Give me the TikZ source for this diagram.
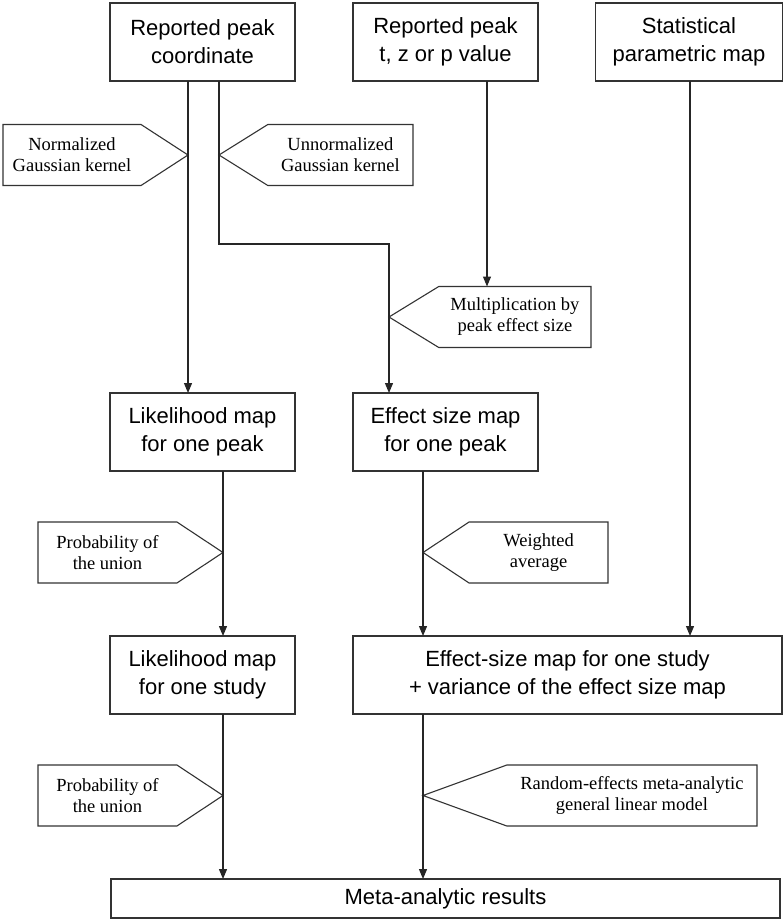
\documentclass[tikz,border=0pt]{standalone}
\usepackage{fontspec}
\setmainfont{Liberation Serif}
\setsansfont{Liberation Sans}
\usetikzlibrary{arrows.meta,shapes.symbols}

\begin{document}
\begin{tikzpicture}[x=1pt,y=-1pt,
  box/.style={draw=black!80,line width=1.3pt,minimum width=185pt,minimum height=78pt,align=center,inner sep=0pt,outer sep=0pt,font=\sffamily\fontsize{22}{28}\selectfont},
  lab/.style={signal,draw=black!80,line width=1.1pt,minimum height=61pt,align=center,inner sep=0pt,outer sep=0pt,font=\fontsize{18.5}{21}\selectfont},
  arr/.style={draw=black!85,line width=1.2pt,-{Triangle[length=10pt,width=8pt]}}]
\useasboundingbox (0,0) rectangle (784,924);
\node[box] (b1) at (202.5,42) {Reported peak\\coordinate};
\node[box] (b2) at (445.5,42) {Reported peak\\t, z or p value};
\node[box,minimum width=187pt] (b3) at (689,42) {Statistical\\parametric map};
\node[box] (b4) at (202.5,432) {Likelihood map\\for one peak};
\node[box] (b5) at (445.5,432) {Effect size map\\for one peak};
\node[box] (b6) at (202.5,675) {Likelihood map\\for one study};
\node[box,minimum width=429pt] (b7) at (567.5,675) {Effect-size map for one study\\+ variance of the effect size map};
\node[box,minimum width=669pt,minimum height=39pt] (b8) at (445.5,898.5) {Meta-analytic results};
\foreach \n/\x in {cNorm/188,cUnnorm/219,cLik/223,cEff/389,cMul/487,cAvg/423,cSpm/690}
  \coordinate (\n) at (\x,0);
\coordinate (bend) at (0,244);
\node[lab,signal to=east,signal pointer angle=66,minimum width=185pt,anchor=east] (lnorm) at (188,155) {Normalized\\Gaussian kernel};
\node[lab,signal to=west,signal pointer angle=64,minimum width=194pt,anchor=west] (lunnorm) at (219,155) {Unnormalized\\Gaussian kernel};
\node[lab,signal to=west,signal pointer angle=63,minimum width=202pt,anchor=west] (lmul) at (389,317) {Multiplication by\\peak effect size};
\node[lab,signal to=east,signal pointer angle=67,minimum width=185pt,anchor=east] (lprobA) at (223,552.5) {Probability of\\the union};
\node[lab,signal to=west,signal pointer angle=67,minimum width=185pt,anchor=west] (lavg) at (423,552.5) {Weighted\\average};
\node[lab,signal to=east,signal pointer angle=67,minimum width=185pt,anchor=east] (lprobB) at (223,795.5) {Probability of\\the union};
\node[lab,signal to=west,signal pointer angle=40,minimum width=334pt,anchor=west] (lrand) at (423,795.5) {Random-effects meta-analytic\\general linear model};
\foreach \c/\a/\b in {cNorm/b1/b4,cLik/b4/b6,cLik/b6/b8,cAvg/b5/b7,cAvg/b7/b8,cSpm/b3/b7}
  \draw[arr] (\c |- \a.south) -- (\c |- \b.north);
\draw[arr] (cUnnorm |- b1.south) -- (cUnnorm |- bend) -- (cEff |- bend) -- (cEff |- b5.north);
\draw[arr] (cMul |- b2.south) -- (cMul |- lmul.north);
\end{tikzpicture}
\end{document}
